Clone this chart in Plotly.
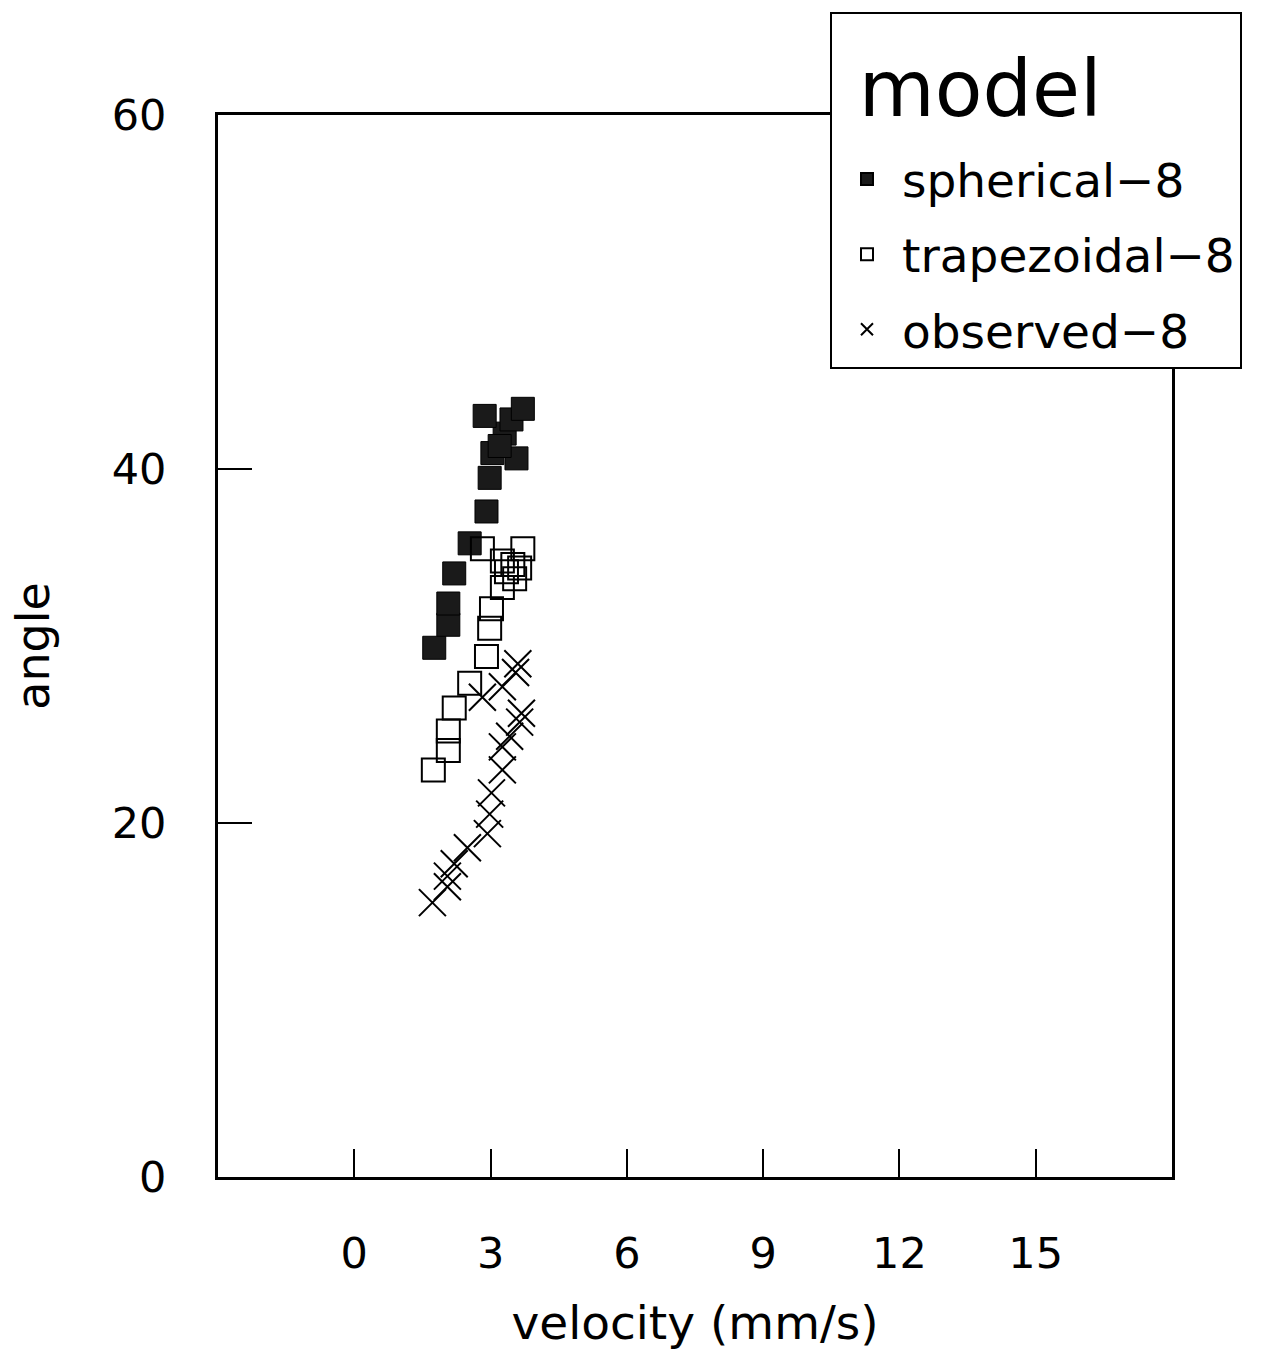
import plotly.graph_objects as go

# spherical-8 (filled squares)
sph_x = [1.76, 2.07, 2.07, 2.20, 2.54, 2.91, 2.98, 3.04, 3.57, 3.31, 2.87, 3.46, 3.71, 3.20]
sph_y = [29.9, 31.2, 32.4, 34.1, 35.8, 37.6, 39.5, 40.9, 40.6, 42.0, 43.0, 42.8, 43.4, 41.3]

# trapezoidal-8 (open squares)
trap_x = [1.74, 2.07, 2.07, 2.20, 2.54, 2.91, 2.98, 3.02, 3.26, 3.35, 3.49, 3.64, 3.26, 2.82, 3.71, 3.53]
trap_y = [23.0, 24.1, 25.2, 26.5, 27.9, 29.4, 31.0, 32.1, 33.3, 34.2, 34.6, 34.4, 34.8, 35.5, 35.5, 33.8]

# observed-8 (crosses)
obs_x = [1.72, 2.05, 2.05, 2.20, 2.49, 2.93, 2.98, 3.02, 3.26, 3.26, 3.42, 3.64, 3.68, 2.82, 3.26, 3.55, 3.60]
obs_y = [15.5, 16.4, 17.0, 17.7, 18.6, 19.4, 20.5, 21.7, 23.0, 24.3, 24.9, 25.7, 26.2, 27.1, 27.7, 28.5, 29.0]

x_ticks = [0, 3, 6, 9, 12, 15]
y_ticks = [0, 20, 40, 60]

FONT = "DejaVu Sans"

fig = go.Figure()
fig.add_trace(go.Scatter(x=sph_x, y=sph_y, mode="markers", name="spherical\u22128",
                         legendgroup="a",
                         legendgrouptitle=dict(text=" ", font=dict(size=18)),
                         marker=dict(symbol="square", size=23, color="#1a1a1a",
                                     line=dict(color="#000", width=1))))
fig.add_trace(go.Scatter(x=trap_x, y=trap_y, mode="markers", name="trapezoidal\u22128",
                         legendgroup="b",
                         marker=dict(symbol="square-open", size=23, color="#000",
                                     line=dict(color="#000", width=2))))
fig.add_trace(go.Scatter(x=obs_x, y=obs_y, mode="markers", name="observed\u22128",
                         legendgroup="c",
                         marker=dict(symbol="x-thin", size=27, color="#000",
                                     line=dict(color="#000", width=2))))

fig.update_layout(
    width=1266, height=1359,
    margin=dict(l=218, r=94, t=113, b=182),
    paper_bgcolor="white", plot_bgcolor="white",
    font=dict(family=FONT, color="#000"),
    showlegend=True,
    legend=dict(
        x=0.6415, y=1.0968, xanchor="left", yanchor="top",
        bordercolor="#000", borderwidth=2, bgcolor="white",
        title=dict(text="\u00a0model", font=dict(size=78, family=FONT)),
        font=dict(size=47, family=FONT),
        itemsizing="constant",
        itemwidth=60,
        tracegroupgap=11,
    ),
    xaxis=dict(
        range=[-3, 18], tickvals=x_ticks, ticktext=[str(v) for v in x_ticks],
        ticks="inside", ticklen=28, tickwidth=1.5, tickcolor="#000",
        showline=True, linewidth=3, linecolor="#000", mirror=True,
        showgrid=False, zeroline=False,
        tickfont=dict(size=43, family=FONT),
        ticklabelstandoff=36,
        title=dict(text="velocity (mm/s)", font=dict(size=47, family=FONT), standoff=30),
    ),
    yaxis=dict(
        range=[0, 60], tickvals=y_ticks, ticktext=[str(v) for v in y_ticks],
        ticks="inside", ticklen=34, tickwidth=1.5, tickcolor="#000",
        showline=True, linewidth=3, linecolor="#000", mirror=True,
        showgrid=False, zeroline=False,
        tickfont=dict(size=43, family=FONT),
        ticklabelstandoff=40,
        title=dict(text="angle", font=dict(size=46, family=FONT), standoff=48),
    ),
)

fig.write_html("out.html")
